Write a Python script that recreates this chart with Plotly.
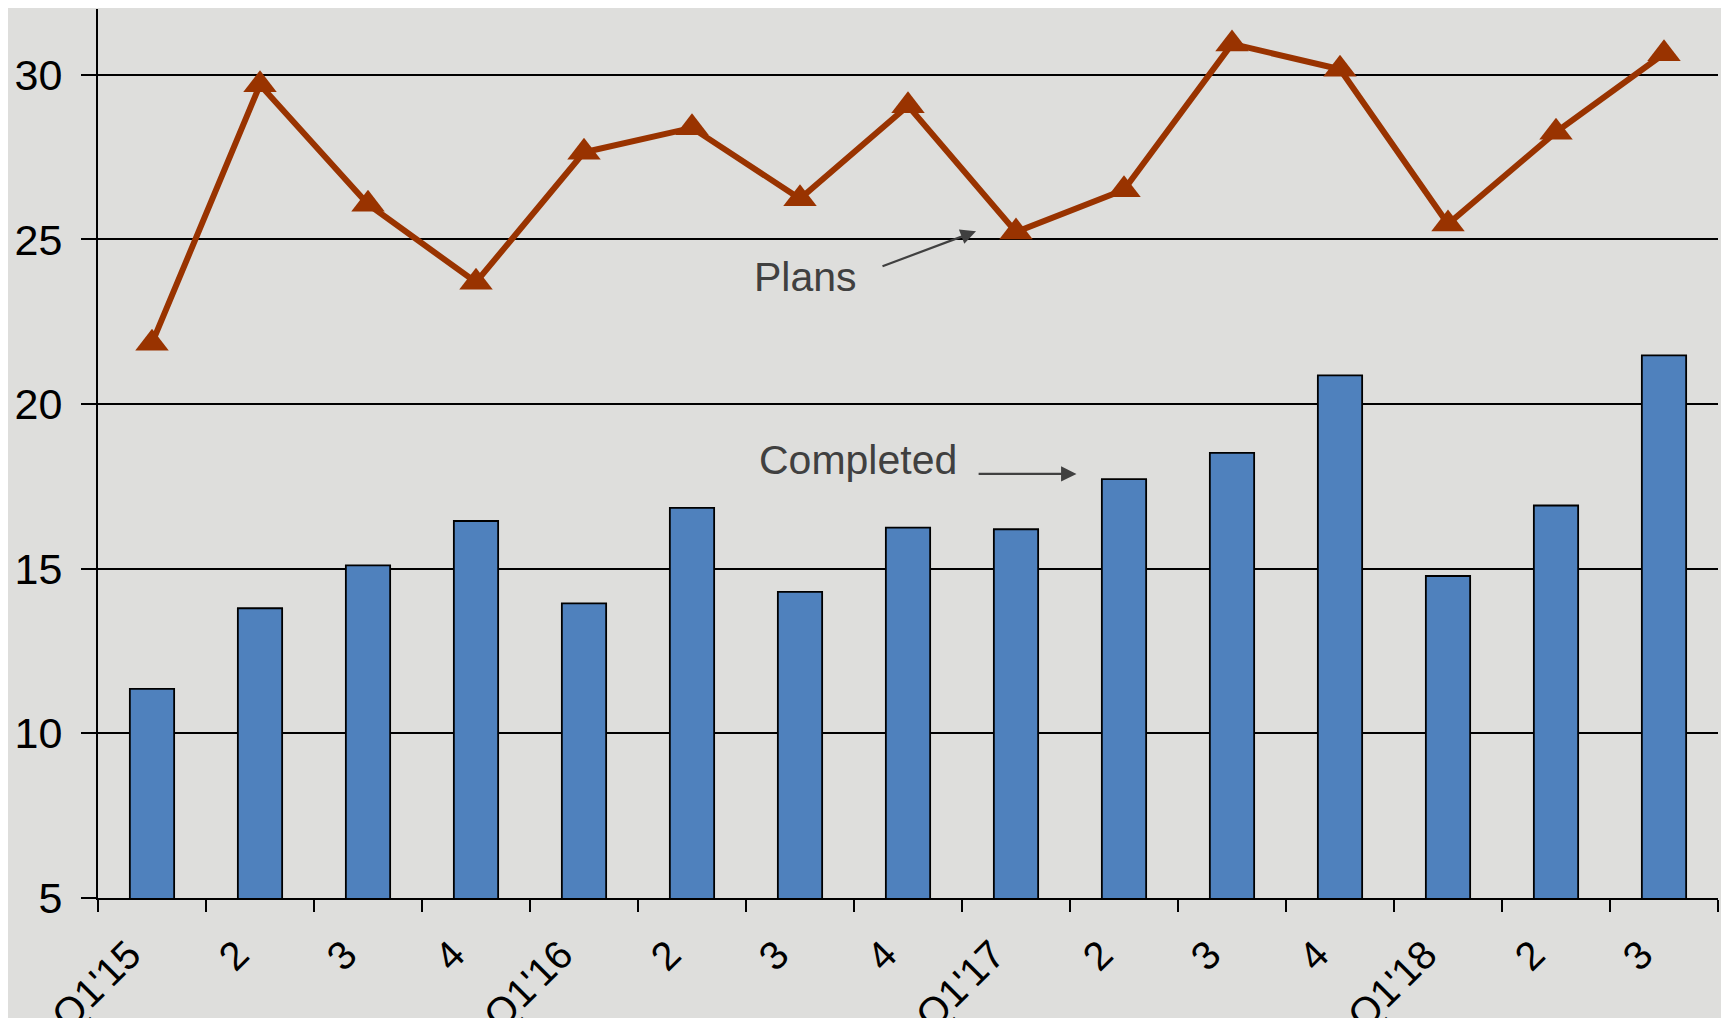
import plotly.graph_objects as go

quarters = ["Q1'15", "Q2'15", "Q3'15", "Q4'15", "Q1'16", "Q2'16", "Q3'16", "Q4'16",
            "Q1'17", "Q2'17", "Q3'17", "Q4'17", "Q1'18", "Q2'18", "Q3'18"]
tick_labels = ["Q1'15", "2", "3", "4", "Q1'16", "2", "3", "4", "Q1'17", "2", "3", "4", "Q1'18", "2", "3"]
completed = [11.35, 13.8, 15.1, 16.45, 13.95, 16.85, 14.3, 16.25, 16.2, 17.72, 18.52, 20.87, 14.78, 16.92, 21.48]
plans = [21.85, 29.7, 26.07, 23.7, 27.65, 28.39, 26.24, 29.06, 25.23, 26.51, 30.94, 30.17, 25.47, 28.26, 30.64]

BG = "#dededc"
FONT = "Liberation Sans, Arial, sans-serif"

fig = go.Figure()
fig.add_trace(go.Bar(
    x=quarters, y=completed, width=0.41,
    marker=dict(color="#4f81bd", line=dict(color="black", width=1.8)),
    showlegend=False,
))
fig.add_trace(go.Scatter(
    x=quarters, y=plans, mode="lines+markers",
    line=dict(color="#993300", width=6),
    marker=dict(symbol="triangle-up", size=29, color="#993300"),
    showlegend=False,
))

arrow_style = dict(xref="x", yref="y", axref="x", ayref="y", text="", showarrow=True,
                   arrowhead=2, arrowsize=1.4, arrowwidth=2.2, arrowcolor="#404040", standoff=0, startstandoff=0)
fig.add_annotation(x=7.63, y=25.25, ax=6.75, ay=24.17, **arrow_style)
fig.add_annotation(x=8.56, y=17.88, ax=7.64, ay=17.88, **arrow_style)
fig.add_annotation(x=6.05, y=23.87, text="Plans", showarrow=False, xref="x", yref="y",
                   font=dict(family=FONT, size=41, color="#404040"))
fig.add_annotation(x=6.54, y=18.31, text="Completed", showarrow=False, xref="x", yref="y",
                   font=dict(family=FONT, size=41, color="#404040"))

fig.update_layout(
    width=1729, height=1018,
    margin=dict(l=90, r=19, t=1, b=128, autoexpand=False),
    paper_bgcolor=BG, plot_bgcolor=BG,
    font=dict(family=FONT, size=40, color="black"),
)
fig.update_xaxes(
    type="category", range=[-0.5, 14.5], tickmode="array", tickvals=quarters, ticktext=tick_labels,
    tickson="boundaries", ticks="outside", ticklen=12, tickwidth=2,
    tickcolor="black", showline=True, linecolor="black", linewidth=2, showgrid=False,
    tickangle=-45, tickfont=dict(family=FONT, size=40, color="black"),
    ticklabelstandoff=15, ticklabelshift=-23, automargin=False,
)
fig.update_yaxes(
    range=[5, 32], tickvals=[5, 10, 15, 20, 25, 30], ticks="outside", ticklen=15, tickwidth=2, tickcolor="black",
    showline=True, linecolor="black", linewidth=2, showgrid=True, gridcolor="black", gridwidth=1.6,
    zeroline=False, tickfont=dict(family=FONT, size=43, color="black"), ticklabelstandoff=10,
    automargin=False,
)

fig.write_html("out.html")
